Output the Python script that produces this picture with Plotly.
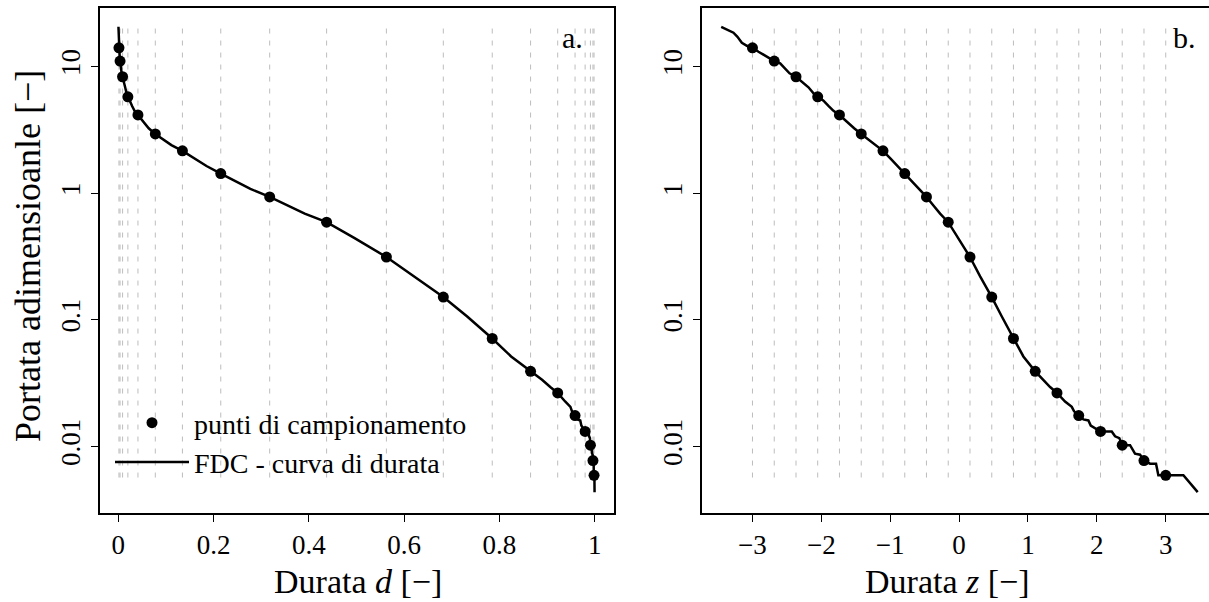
import math
import plotly.graph_objects as go

# Flow duration curve: normal score z and dimensionless discharge q
curve_z = [-3.454, -3.276, -3.218, -3.154, -3.081, -3.0, -2.913, -2.816, -2.743, -2.684,
           -2.598, -2.525, -2.462, -2.368, -2.283, -2.187, -2.114, -2.053, -1.969, -1.897,
           -1.824, -1.737, -1.630, -1.524, -1.421, -1.317, -1.219, -1.105, -1.002, -0.896,
           -0.789, -0.687, -0.591, -0.474, -0.373, -0.276, -0.158, -0.010, 0.158, 0.305,
           0.474, 0.620, 0.789, 0.933, 1.105, 1.224, 1.321, 1.421, 1.538, 1.636,
           1.669, 1.737, 1.804, 1.877, 1.911, 2.053, 2.216, 2.264, 2.326, 2.368,
           2.482, 2.554, 2.627, 2.684, 2.772, 2.859, 2.893, 3.0, 3.256, 3.464]
curve_q = [20.65, 18.53, 17.22, 15.45, 14.62, 14.09, 13.12, 12.13, 11.53, 11.07,
           10.62, 9.70, 8.85, 8.32, 7.60, 6.87, 6.15, 5.78, 5.38, 4.89,
           4.47, 4.15, 3.67, 3.26, 2.94, 2.67, 2.40, 2.16, 1.89, 1.64,
           1.43, 1.24, 1.08, 0.935, 0.800, 0.690, 0.590, 0.442, 0.313, 0.220,
           0.151, 0.106, 0.0711, 0.0513, 0.0391, 0.0336, 0.0294, 0.0264, 0.0226, 0.0205,
           0.0189, 0.0175, 0.0163, 0.0160, 0.0146, 0.0131, 0.0131, 0.0120, 0.0116, 0.0102,
           0.0102, 0.00875, 0.00859, 0.00771, 0.00729, 0.00729, 0.00590, 0.00590, 0.00590, 0.00434]

# Sampling points
sample_z = [-3.0, -2.684, -2.368, -2.053, -1.737, -1.421, -1.105, -0.789, -0.474, -0.158,
            0.158, 0.474, 0.789, 1.105, 1.421, 1.737, 2.053, 2.368, 2.684, 3.0]
sample_q = [14.09, 11.07, 8.32, 5.78, 4.15, 2.94, 2.16, 1.43, 0.935, 0.590,
            0.313, 0.151, 0.0711, 0.0391, 0.0264, 0.0175, 0.0131, 0.0102, 0.00771, 0.00590]

# Extent of the dashed guide lines
guide_q = [20.0, 0.005]

x1_ticks = [0, 0.2, 0.4, 0.6, 0.8, 1]
x1_labels = ["0", "0.2", "0.4", "0.6", "0.8", "1"]
x2_ticks = [-3, -2, -1, 0, 1, 2, 3]
x2_labels = ["\u22123", "\u22122", "\u22121", "0", "1", "2", "3"]
y_ticks = [0.01, 0.1, 1, 10]
y_labels = ["0.01", "0.1", "1", "10"]


def phi(z):
    """Duration d as the standard normal CDF of z."""
    return 0.5 * (1.0 + math.erf(z / math.sqrt(2.0)))


curve_d = [phi(z) for z in curve_z]
sample_d = [phi(z) for z in sample_z]

FONT = "'Liberation Serif', 'Times New Roman', 'DejaVu Serif', serif"
W, H = 1209, 602


def guides(xs):
    gx, gy = [], []
    for x in xs:
        gx += [x, x, None]
        gy += [guide_q[0], guide_q[1], None]
    return gx, gy


fig = go.Figure()

for xs_pts, xs_curve, xa, ya, legend in [
    (sample_d, curve_d, "x", "y", True),
    (sample_z, curve_z, "x2", "y2", False),
]:
    gx, gy = guides(xs_pts)
    fig.add_trace(go.Scatter(
        x=gx, y=gy, xaxis=xa, yaxis=ya, mode="lines", showlegend=False,
        line=dict(color="#bdbdbd", width=1, dash="5px,7px"), hoverinfo="skip"))
    fig.add_trace(go.Scatter(
        x=xs_curve, y=curve_q, xaxis=xa, yaxis=ya, mode="lines",
        name="FDC - curva di durata", showlegend=legend, legendrank=2,
        line=dict(color="black", width=2.5)))
    fig.add_trace(go.Scatter(
        x=xs_pts, y=sample_q, xaxis=xa, yaxis=ya, mode="markers",
        name="punti di campionamento", showlegend=legend, legendrank=1,
        marker=dict(color="black", size=11)))

axis_common = dict(
    showline=True, linecolor="black", linewidth=1.5,
    ticks="outside", ticklen=7, tickwidth=1.2, tickcolor="black",
    showgrid=False, zeroline=False, automargin=False,
    tickfont=dict(family=FONT, size=27, color="black"),
)

fig.update_layout(
    width=W, height=H,
    margin=dict(l=0, r=0, t=0, b=0),
    paper_bgcolor="white", plot_bgcolor="white",
    font=dict(family=FONT, color="black"),
    xaxis=dict(domain=[99.5 / W, 613.5 / W], range=[-0.0395, 1.0395],
               tickvals=x1_ticks, ticktext=x1_labels, mirror=True,
               ticklabelstandoff=0, **axis_common),
    yaxis=dict(domain=[1 - 513 / H, 1 - 8.3 / H], type="log", range=[-2.527, 1.461],
               tickvals=y_ticks, ticktext=y_labels, tickangle=-90, mirror=True,
               ticklabelstandoff=0, **axis_common),
    xaxis2=dict(domain=[701.5 / W, 1.0], range=[-3.74, 3.628], anchor="y2",
                tickvals=x2_ticks, ticktext=x2_labels, mirror=True,
                ticklabelstandoff=0, **axis_common),
    yaxis2=dict(domain=[1 - 513 / H, 1 - 8.3 / H], type="log", range=[-2.527, 1.461],
                anchor="x2", tickvals=y_ticks, ticktext=y_labels, tickangle=-90,
                mirror=False, ticklabelstandoff=0, **axis_common),
    legend=dict(x=110 / W, y=1 - 398 / H, xanchor="left", yanchor="top",
                bgcolor="rgba(0,0,0,0)", itemwidth=74,
                font=dict(family=FONT, size=28, color="black"),
                tracegroupgap=0),
    showlegend=True,
)

title_font = dict(family=FONT, size=34, color="black")
annotations = [
    dict(text="Durata <i>d</i> [\u2212]", x=358 / W, y=1 - 581 / H),
    dict(text="Durata <i>z</i> [\u2212]", x=947 / W, y=1 - 581 / H),
    dict(text="Portata adimensioanle [\u2212]", x=28 / W, y=1 - 256 / H, textangle=-90,
         font=dict(family=FONT, size=36, color="black")),
]
for a in annotations:
    a.setdefault("font", title_font)
    fig.add_annotation(xref="paper", yref="paper", showarrow=False,
                       xanchor="center", yanchor="middle", **a)

panel_font = dict(family=FONT, size=30, color="black")
for label, px in [("a.", 572), ("b.", 1184)]:
    fig.add_annotation(text=label, xref="paper", yref="paper", x=px / W, y=1 - 38 / H,
                       showarrow=False, xanchor="center", yanchor="middle",
                       font=panel_font)

fig.write_html("out.html")
